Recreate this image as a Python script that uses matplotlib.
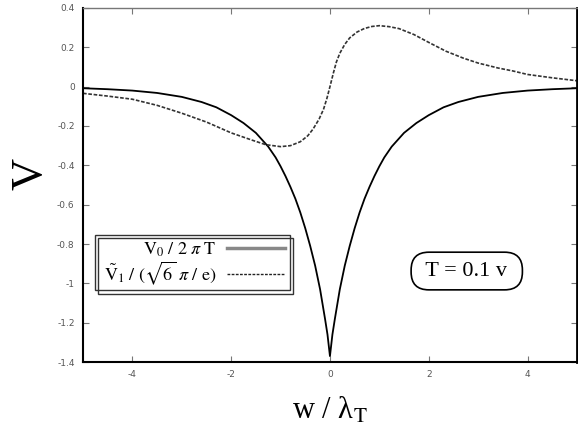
import matplotlib
matplotlib.use("Agg")
from matplotlib import pyplot as plt
from matplotlib.patches import Rectangle
from matplotlib.lines import Line2D
from matplotlib.ticker import FuncFormatter

plt.rcParams['mathtext.fontset'] = 'stix'
plt.rcParams['axes.unicode_minus'] = False

# V0 / 2 pi T  (solid)
w_v0 = [-5.0, -4.5, -4.0, -3.5, -3.0, -2.6, -2.3, -2.0, -1.75, -1.5, -1.25, -1.1, -1.0, -0.9, -0.8,
        -0.7, -0.6, -0.5, -0.4, -0.3, -0.2, -0.1, -0.05, 0.0,
        0.05, 0.1, 0.2, 0.3, 0.4, 0.5, 0.6, 0.7, 0.8, 0.9, 1.0, 1.1, 1.25, 1.5, 1.75, 2.0, 2.3, 2.6,
        3.0, 3.5, 4.0, 4.5, 5.0]
v0 = [-0.008, -0.013, -0.02, -0.032, -0.052, -0.078, -0.105, -0.145, -0.185, -0.235, -0.305, -0.36, -0.405, -0.455, -0.51,
      -0.57, -0.64, -0.72, -0.81, -0.91, -1.03, -1.18, -1.26, -1.37,
      -1.26, -1.18, -1.03, -0.91, -0.81, -0.72, -0.64, -0.57, -0.51, -0.455, -0.405, -0.36, -0.305, -0.235, -0.185, -0.145, -0.105, -0.078,
      -0.052, -0.032, -0.02, -0.013, -0.008]

# V1~ / (sqrt6 pi / e)  (dashed)
w_v1 = [-5.0, -4.5, -4.0, -3.5, -3.0, -2.5, -2.0, -1.6, -1.3, -1.0, -0.8, -0.6, -0.45, -0.34, -0.22, -0.13, -0.06, 0.0,
        0.07, 0.13, 0.2, 0.3, 0.4, 0.55, 0.7, 0.85, 1.0, 1.2, 1.4, 1.7, 2.0, 2.35, 2.7, 3.0, 3.4, 3.7, 4.0, 4.5, 5.0]
v1 = [-0.034, -0.048, -0.064, -0.095, -0.135, -0.18, -0.235, -0.27, -0.295, -0.305, -0.30, -0.28, -0.25, -0.215, -0.165, -0.115, -0.058, 0.0,
      0.07, 0.125, 0.17, 0.215, 0.248, 0.278, 0.296, 0.306, 0.31, 0.305, 0.295, 0.265, 0.225, 0.18, 0.145, 0.12, 0.095, 0.08, 0.062, 0.045, 0.03]

xticks = [-4, -2, 0, 2, 4]
yticks = [-1.4, -1.2, -1.0, -0.8, -0.6, -0.4, -0.2, 0, 0.2, 0.4]

fig = plt.figure(figsize=(5.78, 4.36), dpi=100)
ax = fig.add_axes([0.1436, 0.1697, 0.8545, 0.812])

ax.plot(w_v0, v0, color="black", lw=1.3)
ax.plot(w_v1, v1, color="#333333", lw=1.2, linestyle=(0, (2.2, 1.0)))

ax.set_xlim(-5, 5)
ax.set_ylim(-1.4, 0.4)
ax.set_xticks(xticks)
ax.set_yticks(yticks)
ax.xaxis.set_major_formatter(FuncFormatter(lambda v, p: "%g" % v))
ax.yaxis.set_major_formatter(FuncFormatter(lambda v, p: "%g" % round(v, 1)))
ax.tick_params(direction="in", length=4, width=0.8, color="#777777",
               labelsize=6.5, labelcolor="#555555", top=True, right=True)
ax.tick_params(axis="x", pad=6)
ax.tick_params(axis="y", pad=6)

ax.spines["left"].set_linewidth(1.5)
ax.spines["bottom"].set_linewidth(1.5)
ax.spines["top"].set_color("#777777")
ax.spines["top"].set_linewidth(1.0)
ax.spines["right"].set_linewidth(2.0)

ax.set_ylabel("V", fontsize=32, family="Liberation Serif")
ax.yaxis.set_label_coords(-0.065, 0.53)
ax.set_xlabel(r"w / λ$_{\mathrm{T}}$", fontsize=22, family="Liberation Serif", labelpad=12)

# legend with double frame
for x0, y0 in [(0.024, 0.202), (0.030, 0.192)]:
    ax.add_patch(Rectangle((x0, y0), 0.395, 0.158, transform=ax.transAxes,
                           fill=False, edgecolor="#333333", lw=1.0, zorder=5))
handles = [Line2D([], [], color="#888888", lw=2.5),
           Line2D([], [], color="#222222", lw=1.0, linestyle=(0, (2, 1)))]
labels = [r"$\mathrm{V}_0\ /\ 2\ \pi\ \mathrm{T}$",
          r"$\tilde{\mathrm{V}}_1\ /\ (\sqrt{6}\ \pi\ /\ \mathrm{e})$"]
ax.legend(handles, labels, loc="center", bbox_to_anchor=(0.225, 0.277),
          frameon=False, markerfirst=False, fontsize=13, handlelength=3.2,
          handletextpad=0.6, labelspacing=0.05)

ax.text(0.777, 0.257, " T = 0.1 v ", transform=ax.transAxes, ha="center", va="center",
        fontsize=16, family="Liberation Serif",
        bbox=dict(boxstyle="round,pad=0.42,rounding_size=0.8", fc="white", ec="black", lw=1.2))

fig.savefig("out.png", dpi=100)
